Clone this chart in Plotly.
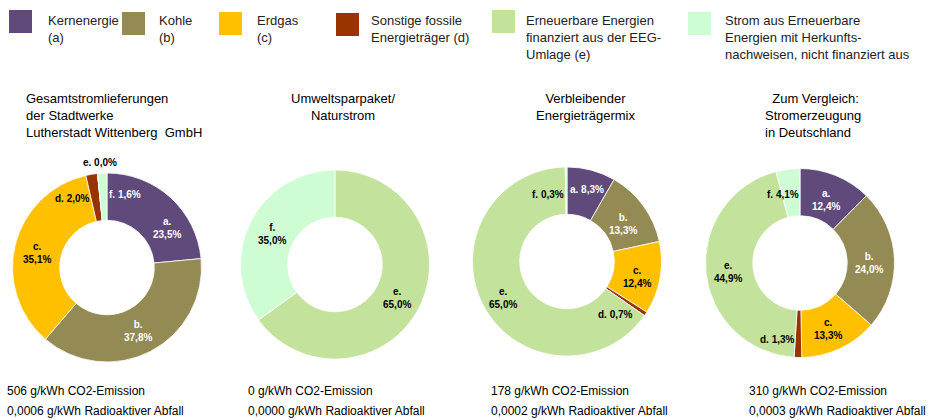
import plotly.graph_objects as go

W, H = 938, 420

# ---------------- data ----------------
letters = ["a", "b", "c", "d", "e", "f"]
legend_names = [
    "Kernenergie<br>(a)",
    "Kohle<br>(b)",
    "Erdgas<br>(c)",
    "Sonstige fossile<br>Energieträger (d)",
    "Erneuerbare Energien<br>finanziert aus der EEG-<br>Umlage (e)",
    "Strom aus Erneuerbare<br>Energien mit Herkunfts-<br>nachweisen, nicht finanziert aus",
]
colors = ["#604A7B", "#948A54", "#FFC000", "#993300", "#C3E29B", "#CFFDD3"]

titles = [
    "Gesamtstromlieferungen<br>der Stadtwerke<br>Lutherstadt Wittenberg  GmbH",
    "Umweltsparpaket/<br>Naturstrom",
    "Verbleibender<br>Energieträgermix",
    "\u00a0\u00a0Zum Vergleich:<br>Stromerzeugung<br>in Deutschland",
]
values_gesamt = [23.5, 37.8, 35.1, 2.0, 0.0, 1.6]
values_umwelt = [0.0, 0.0, 0.0, 0.0, 65.0, 35.0]
values_rest = [8.3, 13.3, 12.4, 0.7, 65.0, 0.3]
values_de = [12.4, 24.0, 13.3, 1.3, 44.9, 4.1]
all_values = [values_gesamt, values_umwelt, values_rest, values_de]

co2 = ["506", "0", "178", "310"]
waste = ["0,0006", "0,0000", "0,0002", "0,0003"]

# ---------------- layout (pixel positions) ----------------
pie_centers = [(107, 267.5), (335, 264.5), (567, 261.5), (800, 263)]
pie_radius = 94.5

title_pos = [(24, "left"), (343, "center"), (585, "center"), (763, "left")]
title_y = 113
bottom_x = [5, 246, 489, 747]

legend_sq_x = [9, 122, 219, 336, 492, 688]
legend_sq_y = [10, 12, 12, 13, 10, 12]
legend_txt_x = [46, 157, 255, 369, 524, 723]

# per donut: letter -> (x, y, two_lines, text colour)
label_layout = [
    {"a": (167, 228, True, "white"), "b": (138, 331, True, "white"),
     "c": (37, 253, True, "black"), "d": (72, 198, False, "black"),
     "e": (100, 163, False, "black"), "f": (125, 194, False, "white")},
    {"e": (397, 298, True, "black"), "f": (272, 234, True, "black")},
    {"a": (587, 190, False, "white"), "b": (623, 224, True, "white"),
     "c": (637, 277, True, "black"), "d": (615, 314, False, "black"),
     "e": (503, 298, True, "black"), "f": (548, 194, False, "black")},
    {"a": (826, 200, True, "white"), "b": (869, 263, True, "white"),
     "c": (828, 329, True, "black"), "d": (777, 339, False, "black"),
     "e": (728, 272, True, "black"), "f": (783, 194, False, "black")},
]

FONT = "Liberation Sans, Arial, sans-serif"


def px(x):
    return x / W


def py(y):
    return 1 - y / H


fig = go.Figure()
annotations = []
shapes = []

for i, vals in enumerate(all_values):
    cx, cy = pie_centers[i]
    fig.add_trace(go.Pie(
        values=vals,
        labels=letters,
        marker=dict(colors=colors, line=dict(color="white", width=0.8)),
        hole=0.5,
        sort=False,
        direction="clockwise",
        rotation=0,
        textinfo="none",
        showlegend=False,
        domain=dict(x=[px(cx - pie_radius), px(cx + pie_radius)],
                    y=[py(cy + pie_radius), py(cy - pie_radius)]),
    ))
    # slice labels
    for j, letter in enumerate(letters):
        if letter not in label_layout[i]:
            continue
        lx, ly, two, col = label_layout[i][letter]
        val = f"{vals[j]:.1f}".replace(".", ",") + "%"
        txt = f"{letter}.<br>{val}" if two else f"{letter}. {val}"
        annotations.append(dict(
            x=px(lx), y=py(ly), xref="paper", yref="paper", text=txt,
            showarrow=False, xanchor="center", yanchor="middle", align="center",
            font=dict(family=FONT, size=10, color=col, weight="bold"),
        ))
    # title
    tx, al = title_pos[i]
    annotations.append(dict(
        x=px(tx), y=py(title_y - 24), xref="paper", yref="paper",
        text=titles[i], showarrow=False,
        xanchor=al if al == "left" else "center", yanchor="top", align=al,
        font=dict(family=FONT, size=13, color="black"),
    ))
    # bottom texts
    annotations.append(dict(
        x=px(bottom_x[i]), y=py(391), xref="paper", yref="paper",
        text=f"{co2[i]} g/kWh CO2-Emission", showarrow=False,
        xanchor="left", yanchor="middle",
        font=dict(family=FONT, size=12, color="black"),
    ))
    annotations.append(dict(
        x=px(bottom_x[i]), y=py(411), xref="paper", yref="paper",
        text=f"{waste[i]} g/kWh Radioaktiver Abfall", showarrow=False,
        xanchor="left", yanchor="middle",
        font=dict(family=FONT, size=12, color="black"),
    ))

# legend
for k in range(len(letters)):
    x0, y0 = legend_sq_x[k], legend_sq_y[k]
    shapes.append(dict(
        type="rect", xref="paper", yref="paper",
        x0=px(x0), x1=px(x0 + 23), y0=py(y0 + 23), y1=py(y0),
        fillcolor=colors[k], line=dict(width=0),
    ))
    annotations.append(dict(
        x=px(legend_txt_x[k]), y=py(11), xref="paper", yref="paper",
        text=legend_names[k], showarrow=False,
        xanchor="left", yanchor="top", align="left",
        font=dict(family=FONT, size=13, color="#222222"),
    ))

fig.update_layout(
    width=W, height=H,
    margin=dict(l=0, r=0, t=0, b=0),
    paper_bgcolor="white",
    plot_bgcolor="white",
    annotations=annotations,
    shapes=shapes,
    showlegend=False,
)

fig.write_html(
    "out.html",
    config={"displayModeBar": False},
    post_script="document.body.style.margin='0';document.body.style.overflow='hidden';",
)
